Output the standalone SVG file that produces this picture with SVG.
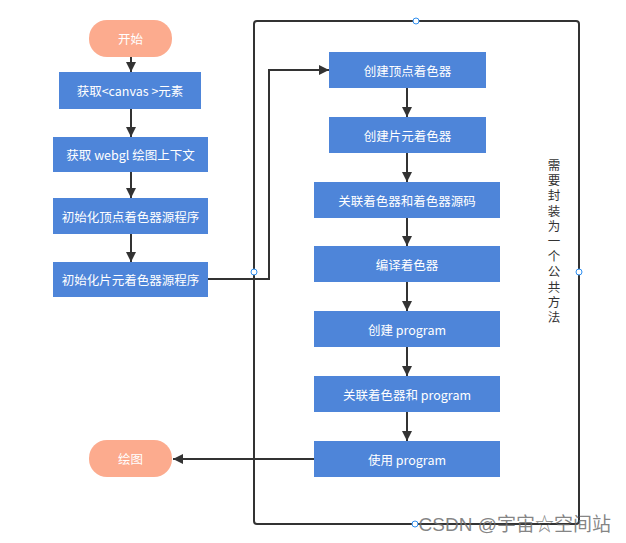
<svg xmlns="http://www.w3.org/2000/svg" width="626" height="543" viewBox="0 0 626 543">
<style>
.box{fill:#4e85d9;}
.pill{fill:#fcab8e;}
.t{fill:#ffffff;font-family:"Noto Sans CJK SC","Open Sans",sans-serif;font-size:12.5px;text-anchor:middle;dominant-baseline:central;}
.ln{fill:none;stroke:#333333;stroke-width:2;}
.vt{fill:#333333;font-family:"Noto Sans CJK SC",sans-serif;font-size:12.5px;writing-mode:vertical-rl;letter-spacing:2.7px;}
.dot{fill:#ffffff;stroke:#2f8ff0;stroke-width:1;}
</style>
<defs>
<marker id="ah" viewBox="0 0 10 10" refX="10" refY="5" markerWidth="5" markerHeight="5" orient="auto" markerUnits="strokeWidth">
<path d="M0,0 L10,5 L0,10 z" fill="#333333"/>
</marker>
</defs>
<rect width="626" height="543" fill="#ffffff"/>

<g id="container">
<rect x="254" y="21" width="325" height="503" rx="3" class="ln"/>
<text class="vt" x="554" y="159">需要封装为一个公共方法</text>
</g>

<g id="connectors">
<line x1="131" y1="57" x2="131" y2="72" class="ln" marker-end="url(#ah)"/>
<line x1="131" y1="109" x2="131" y2="137" class="ln" marker-end="url(#ah)"/>
<line x1="131" y1="172" x2="131" y2="198" class="ln" marker-end="url(#ah)"/>
<line x1="131" y1="234" x2="131" y2="262" class="ln" marker-end="url(#ah)"/>
<polyline points="208,279 269,279 269,70 329,70" class="ln" marker-end="url(#ah)"/>
<line x1="407" y1="88" x2="407" y2="117" class="ln" marker-end="url(#ah)"/>
<line x1="407" y1="153" x2="407" y2="182" class="ln" marker-end="url(#ah)"/>
<line x1="407" y1="218" x2="407" y2="246" class="ln" marker-end="url(#ah)"/>
<line x1="407" y1="282" x2="407" y2="311" class="ln" marker-end="url(#ah)"/>
<line x1="407" y1="347" x2="407" y2="376" class="ln" marker-end="url(#ah)"/>
<line x1="407" y1="412" x2="407" y2="441" class="ln" marker-end="url(#ah)"/>
<line x1="314" y1="459" x2="173" y2="459" class="ln" marker-end="url(#ah)"/>
</g>

<g id="dots">
<circle cx="416" cy="21" r="3" class="dot"/>
<circle cx="254" cy="272" r="3" class="dot"/>
<circle cx="579" cy="272" r="3" class="dot"/>
<circle cx="415" cy="524" r="3" class="dot"/>
</g>

<g id="start"><rect x="89" y="20" width="83" height="37" rx="18" class="pill"/><text class="t" x="130.5" y="38.5">开始</text></g>
<g id="n1"><rect x="59" y="72" width="142" height="37" class="box"/><text class="t" x="130" y="90.5">获取&lt;canvas &gt;元素</text></g>
<g id="n2"><rect x="53" y="137" width="155" height="35" class="box"/><text class="t" x="130.5" y="154.5">获取 webgl 绘图上下文</text></g>
<g id="n3"><rect x="53" y="198" width="155" height="36" class="box"/><text class="t" x="130.5" y="216">初始化顶点着色器源程序</text></g>
<g id="n4"><rect x="53" y="262" width="155" height="35" class="box"/><text class="t" x="130.5" y="279.5">初始化片元着色器源程序</text></g>

<g id="r1"><rect x="329" y="52" width="157" height="36" class="box"/><text class="t" x="407.5" y="70">创建顶点着色器</text></g>
<g id="r2"><rect x="329" y="117" width="157" height="36" class="box"/><text class="t" x="407.5" y="135">创建片元着色器</text></g>
<g id="r3"><rect x="314" y="182" width="186" height="36" class="box"/><text class="t" x="407" y="200">关联着色器和着色器源码</text></g>
<g id="r4"><rect x="314" y="246" width="186" height="36" class="box"/><text class="t" x="407" y="264">编译着色器</text></g>
<g id="r5"><rect x="314" y="311" width="186" height="36" class="box"/><text class="t" x="407" y="329">创建 program</text></g>
<g id="r6"><rect x="314" y="376" width="186" height="36" class="box"/><text class="t" x="407" y="394">关联着色器和 program</text></g>
<g id="r7"><rect x="314" y="441" width="186" height="36" class="box"/><text class="t" x="407" y="459">使用 program</text></g>

<g id="end"><rect x="89" y="440" width="83" height="37" rx="18" class="pill"/><text class="t" x="130.5" y="458.5">绘图</text></g>

<text x="611" y="531" font-family="Liberation Sans,Noto Sans CJK SC,sans-serif" font-size="19" fill="#6f6f6f" fill-opacity="0.85" text-anchor="end">CSDN @宇宙☆空间站</text>
</svg>
